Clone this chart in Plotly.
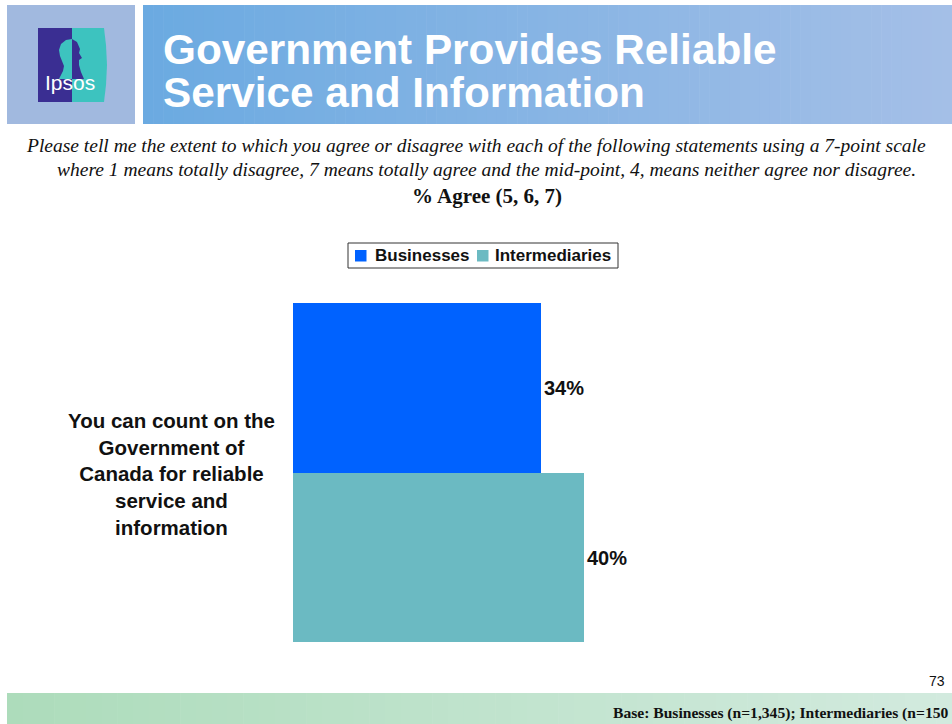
import plotly.graph_objects as go

# ---- data -------------------------------------------------------------
categories = ["You can count on the<br>Government of<br>Canada for reliable<br>service and<br>information"]
series_names = ["Businesses", "Intermediaries"]
businesses = [34]
intermediaries = [40]
series_colors = ["#0062FF", "#6BBAC2"]

title_lines = ["Government Provides Reliable", "Service and Information"]
question_lines = [
    "Please tell me the extent to which you agree or disagree with each of the following statements using a 7-point scale",
    "where 1 means totally disagree, 7 means totally agree and the mid-point, 4, means neither agree nor disagree.",
]
measure_label = "% Agree (5, 6, 7)"
page_number = "73"
base_note = "Base: Businesses (n=1,345); Intermediaries (n=150"

# ---- page geometry ----------------------------------------------------
W, H = 952, 724
ML, MR, MT, MB = 293, 222, 303, 82
PW, PH = W - ML - MR, H - MT - MB


def X(px):
    return (px - ML) / PW


def Y(py):
    return (H - MB - py) / PH


def lerp_color(c1, c2, t):
    a = [int(c1[i:i + 2], 16) for i in (1, 3, 5)]
    b = [int(c2[i:i + 2], 16) for i in (1, 3, 5)]
    return "#%02x%02x%02x" % tuple(round(a[k] + (b[k] - a[k]) * t) for k in range(3))


def rect(x0, y0, x1, y1, color, line=None, layer="below"):
    return dict(type="rect", xref="paper", yref="paper", x0=X(x0), x1=X(x1),
                y0=Y(y1), y1=Y(y0), fillcolor=color,
                line=line or dict(width=0), layer=layer)


def gradient(x0, y0, x1, y1, c1, c2, n=80):
    out = []
    step = (x1 - x0) / n
    for i in range(n):
        out.append(rect(x0 + i * step, y0, x0 + (i + 1) * step + 0.6, y1,
                        lerp_color(c1, c2, i / (n - 1))))
    return out


def path(points, color):
    d = "M " + " L ".join(f"{X(px):.5f},{Y(py):.5f}" for px, py in points) + " Z"
    return dict(type="path", xref="paper", yref="paper", path=d, fillcolor=color,
                line=dict(width=0), layer="above")


shapes = []
# header panels
shapes.append(rect(7, 5, 135, 124, "#A1B9DF"))
shapes += gradient(143, 5, 952, 124, "#6BAAE1", "#A4BFE7")
# footer band
shapes += gradient(7, 693, 952, 724, "#ADDCBB", "#D2EADE", n=60)

# logo
shapes.append(rect(38, 28, 72, 102, "#3A2E92"))
shapes.append(path([(72, 28), (104, 28), (106, 45), (107, 65), (106, 85), (104, 102), (72, 102)], "#3DC3BF"))
# head silhouette
shapes.append(path([(66, 40), (61, 44), (59, 50), (60, 56), (62, 61), (64, 66), (63, 71),
                    (61, 75), (59, 79), (72, 79), (72, 39)], "#3DC3BF"))
shapes.append(path([(72, 39), (77, 42), (80, 49), (79, 53), (82, 58), (79, 60), (79, 65),
                    (81, 72), (84, 79), (72, 79)], "#3A2E92"))

# legend frame and swatches
legend_box = (348, 243, 618, 268)
swatch_x = [355, 477]
label_x = [373, 493]
shapes.append(rect(*legend_box, "white", line=dict(color="#333333", width=1), layer="above"))
for sx, col in zip(swatch_x, series_colors):
    shapes.append(rect(sx, 250, sx + 11.5, 261.5, col, layer="above"))

fig = go.Figure()
for name, vals, col in zip(series_names, [businesses, intermediaries], series_colors):
    fig.add_trace(go.Bar(
        name=name, y=categories, x=vals, orientation="h",
        marker=dict(color=col, line=dict(width=0)),
        texttemplate="%{x}%", textposition="outside",
        textfont=dict(family="Liberation Sans", size=20, color="#111111", weight="bold"),
        cliponaxis=False, hoverinfo="skip", showlegend=False,
    ))

annotations = []
# legend labels
for name, lx in zip(series_names, label_x):
    annotations.append(dict(text=f"<b>{name}</b>", x=X(lx), y=Y(256), xref="paper", yref="paper",
                            xanchor="left", yanchor="middle", showarrow=False,
                            font=dict(family="Liberation Sans", size=17, color="#111111")))
# title
for text, cy in zip(title_lines, [49, 92]):
    annotations.append(dict(text=f"<b>{text}</b>", x=X(161), y=Y(cy), xref="paper", yref="paper",
                            xanchor="left", yanchor="middle", showarrow=False,
                            font=dict(family="Liberation Sans", size=42.3, color="white")))
annotations.append(dict(text="Ipsos", x=X(70), y=Y(83), xref="paper", yref="paper",
                        xanchor="center", yanchor="middle", showarrow=False,
                        font=dict(family="Liberation Sans Narrow, Liberation Sans", size=21, color="white")))
# question text
for text, cx, cy in zip(question_lines, [476, 486], [145, 170]):
    annotations.append(dict(text=f"<i>{text}</i>", x=X(cx), y=Y(cy), xref="paper", yref="paper",
                            xanchor="center", yanchor="middle", showarrow=False,
                            font=dict(family="Liberation Serif", size=19.5, color="#111111")))
annotations.append(dict(text=f"<b>{measure_label}</b>", x=X(487), y=Y(196), xref="paper", yref="paper",
                        xanchor="center", yanchor="middle", showarrow=False,
                        font=dict(family="Liberation Serif", size=21, color="#111111")))
# category label
annotations.append(dict(text=f"<b>{categories[0]}</b>", x=X(171), y=Y(474), xref="paper", yref="paper",
                        xanchor="center", yanchor="middle", align="center", showarrow=False,
                        font=dict(family="Liberation Sans", size=20.5, color="#111111")))
# page number and base
annotations.append(dict(text=page_number, x=X(947), y=Y(681), xref="paper", yref="paper",
                        xanchor="right", yanchor="middle", showarrow=False,
                        font=dict(family="Liberation Sans", size=14, color="#111111")))
annotations.append(dict(text=f"<b>{base_note}</b>", x=X(950), y=Y(713), xref="paper", yref="paper",
                        xanchor="right", yanchor="middle", showarrow=False,
                        font=dict(family="Liberation Serif", size=15.6, color="#111111")))

fig.update_layout(
    width=W, height=H,
    margin=dict(l=ML, r=MR, t=MT, b=MB, pad=0),
    paper_bgcolor="white", plot_bgcolor="white",
    barmode="group", bargap=0, bargroupgap=0,
    xaxis=dict(range=[0, 60], visible=False, fixedrange=True),
    yaxis=dict(type="category", range=[0.5, -0.5], visible=False, fixedrange=True),
    showlegend=False,
    shapes=shapes,
    annotations=annotations,
)

fig.write_html("out.html", config={"displayModeBar": False})
